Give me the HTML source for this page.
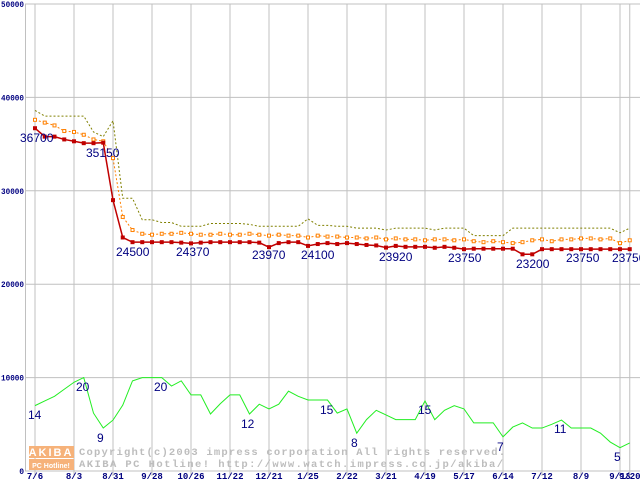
<!DOCTYPE html>
<html><head><meta charset="utf-8"><style>
body{margin:0;background:#fff;}
svg{display:block;font-family:"Liberation Sans",sans-serif;}
</style></head><body>
<svg id="chart" width="640" height="480" viewBox="0 0 640 480" xmlns="http://www.w3.org/2000/svg">
<g id="grid"></g>
<g id="wm">
<rect x="29" y="446" width="45" height="12" fill="#f6b27a"/>
<rect x="29" y="459" width="45" height="11" fill="#f6b27a"/>
<text x="51" y="456" font-size="11" fill="#fff" text-anchor="middle" font-weight="bold" letter-spacing="2">AKIBA</text>
<text x="51" y="468" font-size="7" fill="#fff" text-anchor="middle" font-weight="bold">PC Hotline!</text>
<text x="79" y="455" font-size="10.5" fill="#bdbdbd" font-family="Liberation Mono,monospace" font-weight="bold" textLength="426" lengthAdjust="spacing">Copyright(c)2003 impress corporation All rights reserved.</text>
<text x="79" y="467" font-size="10.5" fill="#bdbdbd" font-family="Liberation Mono,monospace" font-weight="bold" textLength="424" lengthAdjust="spacing">AKIBA PC Hotline!  http://www.watch.impress.co.jp/akiba/</text>
</g>
<g id="series"></g>
<g id="labels" font-size="12" fill="#000080"></g>
</svg>
<script>
const xLabels=["7/6","8/3","8/31","9/28","10/26","11/22","12/21","1/25","2/22","3/21","4/19","5/17","6/14","7/12","8/9","9/13","9/20"];
const xLabelWeek=[0,4,8,12,16,20,24,28,32,36,40,44,48,52,56,60,61];
const yTicks=[0,10000,20000,30000,40000,50000];
const minPrice=[36700,35800,35800,35500,35300,35100,35100,35150,29000,25000,24500,24500,24500,24500,24500,24450,24370,24450,24500,24500,24500,24500,24500,24450,23970,24400,24500,24500,24100,24300,24400,24300,24400,24300,24200,24150,23920,24100,24000,24000,24000,23900,24000,23900,23750,23800,23800,23800,23800,23800,23200,23200,23750,23750,23750,23750,23750,23750,23750,23750,23750,23750];
const avgPrice=[37600,37300,37000,36400,36300,36000,35500,35300,33500,27200,25800,25400,25300,25400,25400,25500,25400,25300,25300,25400,25300,25300,25400,25300,25200,25300,25200,25200,25000,25200,25100,25100,25000,25000,24900,25000,24800,24900,24800,24800,24700,24800,24800,24700,24800,24600,24500,24600,24500,24400,24500,24700,24800,24600,24800,24800,24900,24900,24800,24900,24400,24700];
const maxPrice=[38600,38000,38000,38000,38000,38000,36300,35800,37500,29200,29200,26900,26900,26600,26600,26200,26200,26200,26500,26500,26500,26500,26400,26200,26200,26200,26200,26200,27000,26300,26300,26200,26200,26000,26000,26000,25800,26000,26000,26000,26000,25800,26000,26000,26000,25200,25200,25200,25200,26000,26000,26000,26000,26000,26000,26000,26000,26000,26000,26000,25500,26000];
const shopCount=[14,15,16,17.5,19,20,12.4,9.2,10.9,14.1,19.3,20,20,20,18.2,19.3,16.3,16.3,12.2,14.4,16.3,16.3,12.2,14.3,13.3,14.3,17.1,16,15.2,15.2,15.2,12.4,13.3,8.1,11,13,12,11,11,11,15,11,13,14,13.3,10.3,10.3,10.3,7.3,9.4,10.3,9.2,9.2,10,10.9,9.2,9.2,9.2,8.1,6.2,5,6];
const annotations=[[0,"36700",20,142],[7,"35150",86,157],[10,"24500",116,256],[16,"24370",176,256],[24,"23970",252,259],[28,"24100",301,259],[36,"23920",379,261],[44,"23750",448,262],[51,"23200",516,268],[56,"23750",566,262],[61,"23750",612,262]];
const countNotes=[["14",28,419],["20",76,391],["9",97,442],["20",154,391],["12",241,428],["15",320,414],["8",351,447],["15",418,414],["7",497,451],["11",554,433],["5",614,461]];
const NS="http://www.w3.org/2000/svg";
const X=i=>35+i*9.75, Y=v=>471-v*0.00934, YC=c=>Y(c*500);
function mk(t,a,p){const e=document.createElementNS(NS,t);for(const k in a)e.setAttribute(k,a[k]);p.appendChild(e);return e;}
const g=document.getElementById('grid'),s=document.getElementById('series'),lb=document.getElementById('labels');
yTicks.forEach(v=>{const l=mk('line',{x1:25,x2:640,y1:Y(v),y2:Y(v),stroke:'#c0c0c0'},g);


const t=mk('text',{x:24,y:Y(v)+3,'text-anchor':'end','font-size':8,'font-weight':'bold',fill:'#000080','font-family':'Liberation Mono,monospace'},g);t.textContent=v;
if(String(v).length>1){t.setAttribute('textLength',String(v).length*4.6);t.setAttribute('lengthAdjust','spacingAndGlyphs');}

});
const ax=mk('line',{x1:25.5,x2:25.5,y1:4,y2:471,stroke:'#c0c0c0'},g);


xLabels.forEach((lab,k)=>{const x=X(xLabelWeek[k]);const l=mk('line',{x1:x,x2:x,y1:4,y2:476,stroke:'#c0c0c0'},g);


const t=mk('text',{x:x,y:479,'text-anchor':'middle','font-size':9,'font-weight':'bold',fill:'#000080','font-family':'Liberation Mono,monospace'},g);t.textContent=lab;

});
function line(arr,fy,attrs,name){const p=mk('polyline',Object.assign({points:arr.map((v,i)=>X(i)+','+fy(v)).join(' '),fill:'none'},attrs),s);

return p;}
line(maxPrice,Y,{stroke:'#808000','stroke-dasharray':'2,2'},'max-price-line');
line(avgPrice,Y,{stroke:'#ff8000','stroke-dasharray':'2,2'},'avg-price-line');
avgPrice.forEach((v,i)=>{const r=mk('rect',{x:X(i)-1.5,y:Y(v)-1.5,width:3,height:3,fill:'#fff',stroke:'#ff8000'},s);

});
line(minPrice,Y,{stroke:'#c00000','stroke-width':1.5},'min-price-line');
minPrice.forEach((v,i)=>{const r=mk('rect',{x:X(i)-2,y:Y(v)-2,width:4,height:4,fill:'#c00000'},s);

});
line(shopCount,YC,{stroke:'#22ee22'},'shop-count-line');
annotations.forEach(a=>{const t=mk('text',{x:a[2],y:a[3]},lb);t.textContent=a[1];

});
countNotes.forEach(a=>{const t=mk('text',{x:a[1],y:a[2]},lb);t.textContent=a[0];

});
</script>
</body></html>
